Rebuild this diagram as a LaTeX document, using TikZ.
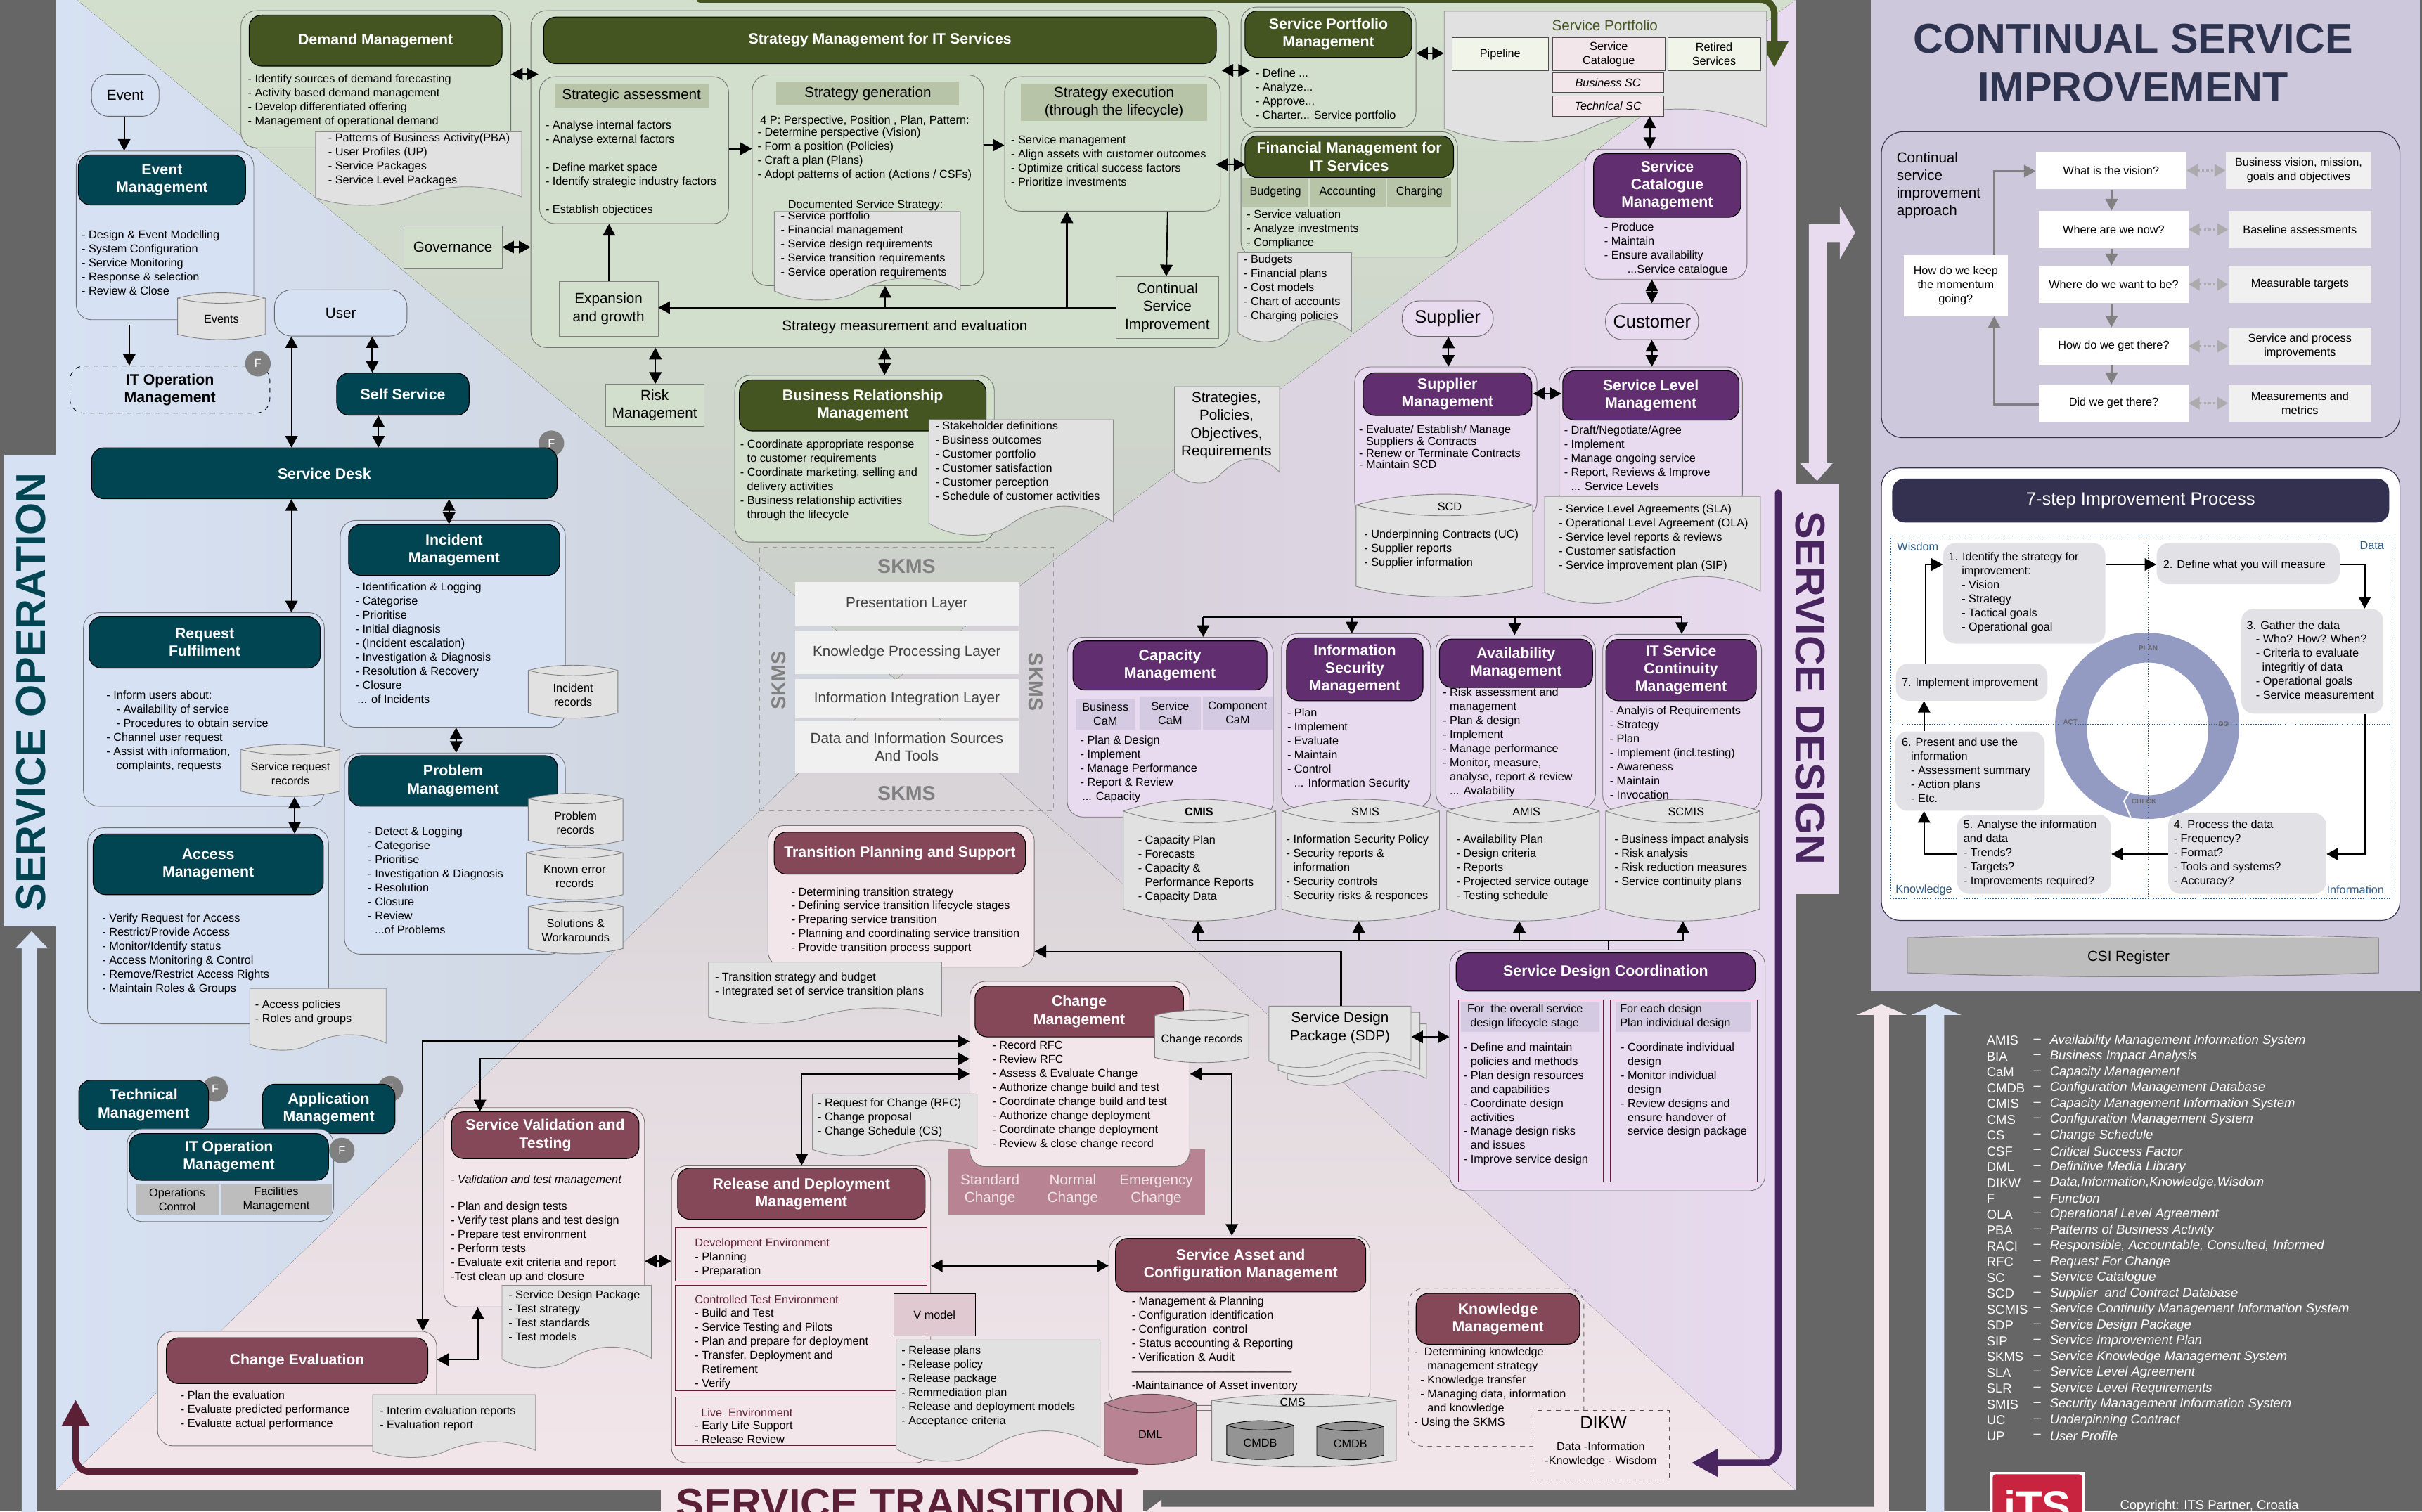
\documentclass[tikz,border=0pt]{standalone}
\usepackage{fontspec}
\setmainfont{Liberation Sans}
\usetikzlibrary{arrows.meta,fit,calc}

\definecolor{pagegrey}{HTML}{666666}
\definecolor{opblue}{HTML}{D6E1F3}
\definecolor{opfade}{HTML}{CFD3DA}
\definecolor{stgreen}{HTML}{D3DFCD}
\definecolor{stfade}{HTML}{CBCFCA}
\definecolor{sdpurple}{HTML}{E8DAEF}
\definecolor{sdfade}{HTML}{D2CFD5}
\definecolor{stpink}{HTML}{F3E6EB}
\definecolor{trfade}{HTML}{D4D1D4}
\definecolor{csililac}{HTML}{CEC8DC}
\definecolor{opteal}{HTML}{014553}
\definecolor{stolive}{HTML}{445522}
\definecolor{sdviolet}{HTML}{612E70}
\definecolor{stmaroon}{HTML}{854858}
\definecolor{csinavy}{HTML}{34304F}
\definecolor{csititle}{HTML}{2E3350}
\definecolor{docgrey}{HTML}{E1E1E1}
\definecolor{rosemid}{HTML}{B88494}
\definecolor{flowmaroon}{HTML}{5C2036}
\definecolor{flowviolet}{HTML}{4A2660}
\definecolor{stepgrey}{HTML}{E2E2E6}
\definecolor{ringblue}{HTML}{939BC3}
\definecolor{dotblue}{HTML}{2F5C85}
\definecolor{lblgreen}{HTML}{B7C4A8}
\definecolor{lblpurple}{HTML}{D4CAE2}
\definecolor{palegreen}{HTML}{F1F5E9}
\definecolor{itsred}{HTML}{C8233F}

\newcommand{\fs}{\fontsize{7.4}{9.1}\selectfont}
\newcommand{\fst}{\fontsize{7.4}{7.6}\selectfont}
\newcommand{\fm}{\fontsize{9.4}{11.5}\selectfont}
\newcommand{\fh}{\fontsize{9.7}{11.5}\selectfont\bfseries}
\newcommand{\fx}{\fontsize{11.6}{13.5}\selectfont}
\newcommand{\fbig}{\fontsize{27}{31.4}\selectfont\bfseries}
\newcommand{\fleg}{\fontsize{8.4}{10}\selectfont}
\newcommand{\ind}{\hspace*{4.5pt}}

\tikzset{
  hdr/.style={draw=black, line width=.5pt, rounded corners=8pt, inner sep=0pt, align=center, text=white, font=\fh},
  hdrop/.style={hdr, fill=opteal},
  hdrst/.style={hdr, fill=stolive},
  hdrsd/.style={hdr, fill=sdviolet},
  hdrtr/.style={hdr, fill=stmaroon},
  outer/.style={draw=black!55, line width=.4pt, rounded corners=10pt, inner sep=0pt},
  outerop/.style={outer, fill=opblue},
  outerst/.style={outer, fill=stgreen},
  outersd/.style={outer, fill=sdpurple},
  outertr/.style={outer, fill=stpink},
  flat/.style={draw=black!50, line width=.4pt, inner sep=0pt, align=center, font=\fm, fill=stgreen},
  lbl/.style={inner sep=0pt, align=center, font=\fm, fill=#1},
  sub/.style={inner sep=0pt, align=center, font=\fs, fill=#1},
  pill/.style={draw=black!60, line width=.4pt, rounded corners=11pt, inner sep=0pt, font=\fm, fill=#1},
  envbox/.style={draw=flowmaroon, line width=.4pt, inner sep=0pt},
  lst/.style={anchor=north west, inner sep=0pt, align=left, font=\fs, yshift=3.2pt, execute at begin node=\strut},
  txt/.style={inner sep=0pt, align=center, font=\fs},
  midtxt/.style={inner sep=0pt, align=center, font=\fm},
  envtxt/.style={anchor=west, inner sep=0pt, font=\fs, text=flowmaroon},
  fbadge/.style={circle, fill=black!50, text=white, inner sep=0pt, minimum size=16.5pt, font=\fs},
  docshape/.style={fill=docgrey, draw=black!45, line width=.4pt},
  cylshape/.style={fill=docgrey, draw=black!50, line width=.4pt},
  cylline/.style={draw=black!50, line width=.4pt},
  arr/.style={draw=black, line width=.95pt, -{Triangle[length=7.5pt,width=8pt]}},
  dbl/.style={draw=black, line width=.95pt, {Triangle[length=7.5pt,width=8pt]}-{Triangle[length=7.5pt,width=8pt]}},
  plainline/.style={draw=black, line width=.95pt},
  garr/.style={draw=black!50, line width=1pt, -{Triangle[length=7.5pt,width=8pt]}},
  gdbl/.style={draw=black!33, line width=1pt, dash pattern=on 1.5pt off 1.5pt, {Triangle[length=7pt,width=8pt]}-{Triangle[length=7pt,width=8pt]}},
  bigflow/.style={line width=4.2pt, rounded corners=9pt, line cap=round, -{Triangle[length=17pt,width=17pt]}},
  vision/.style={fill=white, inner sep=0pt, align=center, font=\fs},
  answer/.style={fill=black!6, inner sep=0pt, align=center, font=\fs},
  stepbox/.style={fill=stepgrey, rounded corners=8pt, inner sep=0pt},
  knotext/.style={inner sep=0pt, font=\fs, text=dotblue},
  skmsword/.style={inner sep=0pt, text=black!50, font=\fontsize{13}{15}\selectfont\bfseries},
  layer/.style={fill=black!6, inner sep=0pt, align=center, font=\fm, text=black!75},
  ringword/.style={inner sep=0pt, text=black!60, font=\fontsize{4.5}{5}\selectfont\bfseries},
}

% box between two corners
\newcommand{\bx}[7][]{\node[#1, anchor=center, minimum width={#5-#3}, minimum height={#6-#4}] (#2) at ({(#3+#5)/2},{(#4+#6)/2}) {#7};}

% sheet with a wavy lower edge
\newcommand{\docbox}[5]{%
  \node[inner sep=0pt, fit={(#2,#3) (#4,#5)}] (#1) {};
  \path[docshape] (#2,#3) -- (#4,#3) -- (#4,{#3+.87*(#5-#3)})
    .. controls ({#4-.2*(#4-#2)},{#3+.66*(#5-#3)}) and ({#2+.6*(#4-#2)},{#3+.72*(#5-#3)}) .. ({#2+.45*(#4-#2)},{#3+.88*(#5-#3)})
    .. controls ({#2+.33*(#4-#2)},{#3+1.03*(#5-#3)}) and ({#2+.12*(#4-#2)},{#3+1.0*(#5-#3)}) .. (#2,{#3+.88*(#5-#3)}) -- cycle;}

% data store, optional argument is the bulge
\newcommand{\cylbox}[7][3.4]{%
  \node[inner sep=0pt, fit={(#3,#4) (#5,#6)}] (#2) {};
  \path[cylshape] (#3,{#4+#1})
    .. controls ({#3+.3*(#5-#3)},{#4-.33*#1}) and ({#5-.3*(#5-#3)},{#4-.33*#1}) .. (#5,{#4+#1})
    -- (#5,{#6-#1})
    .. controls ({#5-.3*(#5-#3)},{#6+.33*#1}) and ({#3+.3*(#5-#3)},{#6+.33*#1}) .. (#3,{#6-#1}) -- cycle;
  \draw[cylline] (#3,{#4+#1}) .. controls ({#3+.3*(#5-#3)},{#4+2.33*#1}) and ({#5-.3*(#5-#3)},{#4+2.33*#1}) .. (#5,{#4+#1});
  \node[txt] (#2t) at ($(#2)+(0,#1*.6)$) {#7};}

\begin{document}
\begin{tikzpicture}[x=1pt, y=-1pt]
  \useasboundingbox (0,0) rectangle (1568,978.6);
  \clip (0,0) rectangle (1568,978.6);

  % 1. Page and lifecycle triangles
  \fill[pagegrey] (0,0) rectangle (1568,978.6);
  \fill[left color=opblue, right color=opfade] (36,0) -- (50,0) -- (580,440) -- (36,965) -- cycle;
  \fill[top color=stgreen, bottom color=stfade] (50,0) -- (1162.4,0) -- (580,440) -- cycle;
  \fill[right color=sdpurple, left color=sdfade] (1162.4,0) -- (1162.4,965) -- (580,440) -- cycle;
  \fill[bottom color=stpink, top color=trfade] (36,965) -- (1162.4,965) -- (580,440) -- cycle;

  % 2. Side labels and lifecycle arrows
  \fill[opblue] (2.7,294.7) rectangle (36,600);
  \fill[opblue] (14,979) -- (14,614) -- (10,614) -- (20.5,603) -- (31,614) -- (24,614) -- (24,979) -- cycle;
  \node[rotate=90, inner sep=0pt, text=opteal, font=\fbig] (soplabel) at (20,448) {SERVICE OPERATION};
  \fill[sdpurple] (1162,313) rectangle (1190.8,578.8);
  \node[rotate=-90, inner sep=0pt, text=flowviolet, font=\fbig] (sdlabel) at (1172,445.5) {SERVICE DESIGN};
  \fill[stpink] (428,965) rectangle (740,979);
  \node[anchor=north, inner sep=0pt, text=flowmaroon, font=\fbig] (stlabel) at (583,964) {SERVICE TRANSITION};
  \fill[sdpurple] (1171,145.3) -- (1191.1,145.3) -- (1191.1,133.8) -- (1201.1,150.5) -- (1191.1,167.8) -- (1191.1,156.8) -- (1182.4,156.8) -- (1182.4,300) -- (1186.4,300) -- (1176.4,311.4) -- (1165.4,300) -- (1171,300) -- cycle;
  \fill[stpink] (1222.9,657.2) -- (1234.4,657.2) -- (1218,650.3) -- (1201.8,657.2) -- (1213,657.2) -- (1213,975.7) -- (752,975.7) -- (752,971) -- (741.5,979) -- (1222.9,979) -- cycle;
  \fill[opblue] (1258.7,979) -- (1258.7,657.2) -- (1269.7,657.2) -- (1253,650.3) -- (1237.4,657.2) -- (1247.2,657.2) -- (1247.2,979) -- cycle;
  \coordinate (greenstart) at (453,-.3);
  \coordinate (greentip) at (1148.7,43.9);
  \draw[bigflow, stolive] (greenstart) -| (greentip);
  \coordinate (designstart) at (1151.2,319);
  \coordinate (designtip) at (1095,947.2);
  \draw[bigflow, flowviolet] (designstart) |- (designtip);
  \coordinate (transstart) at (735,952.9);
  \coordinate (transtip) at (49,906.3);
  \draw[bigflow, flowmaroon] (transstart) -| (transtip);

  % 3. Service operation
  \bx[pill=opblue]{eventpill}{59.3}{48}{103}{75.3}{Event}
  \bx[outerop]{eventbox}{49.3}{97.8}{164.3}{207}{}
  \bx[hdrop]{eventhdr}{50.7}{100.3}{159}{132.7}{Event\\Management}
  \node[lst] (eventlist) at (52.7,152) {- Design \& Event Modelling\\- System Configuration\\- Service Monitoring\\- Response \& selection\\- Review \& Close};
  \cylbox{eventstore}{115}{189.6}{171.7}{219.9}{Events}
  \bx[pill=opblue]{userpill}{177.7}{187.7}{263.5}{217.6}{User}
  \bx[draw=black, dashed, line width=.4pt, rounded corners=9pt, inner sep=0pt, align=center, font=\fh]{itdashed}{45.3}{237}{174.7}{267.5}{IT Operation\\Management}
  \node[fbadge] (fa) at (167,235.5) {F};
  \bx[hdrop]{selfhdr}{218}{241.6}{303.7}{268.8}{Self Service}
  \node[fbadge] (fb) at (357,287) {F};
  \bx[hdrop]{deskhdr}{59.3}{290}{360.7}{323}{Service Desk}

  \bx[outerop]{incidentbox}{220.3}{337}{366}{470.9}{}
  \bx[hdrop]{incidenthdr}{225.7}{339.6}{362.3}{372.6}{Incident\\Management}
  \node[lst] (incidentlist) at (230,380.4) {- Identification \& Logging\\- Categorise\\- Prioritise\\- Initial diagnosis\\- (Incident escalation)\\- Investigation \& Diagnosis\\- Resolution \& Recovery\\- Closure\\\,... of Incidents};
  \cylbox{incidentstore}{342}{430.7}{400}{465}{Incident\\records}
  \bx[outerop]{problembox}{223}{487.6}{366}{617.8}{}
  \bx[hdrop]{problemhdr}{225.7}{489.3}{361}{522}{Problem\\Management}
  \node[lst] (problemlist) at (238,538.8) {- Detect \& Logging\\- Categorise\\- Prioritise\\- Investigation \& Diagnosis\\- Resolution\\- Closure\\- Review\\\ind...of Problems};
  \cylbox{problemstore}{342}{513.7}{403.3}{547.6}{Problem\\records}
  \cylbox{knownstore}{340.7}{548.8}{403.3}{582.7}{Known error\\records}
  \cylbox{solutionstore}{342}{583.7}{403.3}{617.6}{Solutions \&\\Workarounds}

  \bx[outerop]{requestbox}{54}{396.7}{210}{522}{}
  \bx[hdrop]{requesthdr}{57.7}{399.4}{207.3}{432.6}{Request\\Fulfilment}
  \node[lst] (requestlist) at (68.7,450.4) {- Inform users about:\\\hspace*{6.5pt}- Availability of service\\\hspace*{6.5pt}- Procedures to obtain service\\- Channel user request\\- Assist with information,\\\hspace*{6.5pt}complaints, requests};
  \cylbox{requeststore}{156}{482}{220}{515.8}{Service request\\records}
  \bx[outerop]{accessbox}{56.7}{536}{212.7}{663}{}
  \bx[hdrop]{accesshdr}{60.3}{540}{209.3}{579.3}{Access\\Management}
  \node[lst] (accesslist) at (66,594.6) {- Verify Request for Access\\- Restrict/Provide Access\\- Monitor/Identify status\\- Access Monitoring \& Control\\- Remove/Restrict Access Rights\\- Maintain Roles \& Groups};
  \docbox{accessdoc}{161.7}{640}{250}{680.8}
  \node[lst] (accessdoclist) at (165,650.6) {- Access policies\\- Roles and groups};

  \node[fbadge] (fc) at (139.3,705.2) {F};
  \bx[hdrop]{techhdr}{51}{699.4}{135}{731.6}{Technical\\Management}
  \node[fbadge] (fd) at (252.7,705) {F};
  \bx[hdrop]{apphdr}{170}{702}{255.7}{734}{Application\\Management}
  \bx[outerop]{itopbox}{82.3}{731}{216}{791}{}
  \bx[hdrop]{itophdr}{83.7}{734}{212.7}{764.2}{IT Operation\\Management}
  \node[fbadge] (fe) at (221.3,745) {F};
  \bx[sub=black!26]{opcontrol}{87.7}{766.9}{141.7}{786.3}{Operations\\Control}
  \bx[sub=black!26]{facilities}{143}{766.9}{214.7}{786.3}{Facilities\\Management}

  % 4. Service strategy
  \bx[outerst]{demandbox}{156}{6.9}{330.7}{95.7}{}
  \bx[hdrst]{demandhdr}{161.3}{9.8}{325}{42.8}{Demand Management}
  \node[lst] (demandlist) at (160.3,51.2) {- Identify sources of demand forecasting\\- Activity based demand management\\- Develop differentiated offering\\- Management of operational demand};
  \docbox{demanddoc}{204.3}{85.3}{337.7}{133.8}
  \node[lst] (demanddoclist) at (212.3,89.5) {- Patterns of Business Activity(PBA)\\- User Profiles (UP)\\- Service Packages\\- Service Level Packages};
  \bx[flat]{govbox}{261.3}{146.3}{325}{173.7}{Governance}
  \bx[outerst]{strategybox}{343.7}{6.9}{795.7}{225}{}
  \bx[hdrst]{strategyhdr}{352}{11}{787.4}{41.2}{Strategy Management for IT Services}
  \bx[outerst]{assessbox}{349.3}{49.7}{471.7}{144.8}{}
  \bx[lbl=lblgreen]{assesslbl}{359}{54.3}{458.7}{69.6}{Strategic assessment}
  \node[lst] (assesslist) at (353,81.3) {- Analyse internal factors\\- Analyse external factors\\[9.1pt]- Define market space\\- Identify strategic industry factors\\[9.1pt]- Establish objectices};
  \bx[outerst]{genbox}{487}{48.5}{636.7}{185}{}
  \bx[lbl=lblgreen]{genlbl}{502.7}{52.9}{621}{68.3}{Strategy generation}
  \node[lst] (genlista) at (492,76.9) {4 P: Perspective, Position , Plan, Pattern:};
  \node[lst] (genlistb) at (490.3,85.9) {- Determine perspective (Vision)\\- Form a position (Policies)\\- Craft a plan (Plans)\\- Adopt patterns of action (Actions / CSFs)};
  \node[lst] (genlistc) at (510,131.5) {Documented Service Strategy:};
  \docbox{gendoc}{501.3}{136.9}{621.7}{195.4}
  \node[lst] (gendoclist) at (505.3,140) {- Service portfolio\\- Financial management\\- Service design requirements\\- Service transition requirements\\- Service operation requirements};
  \bx[outerst]{execbox}{650.4}{49.7}{790}{136.7}{}
  \bx[lbl=lblgreen]{execlbl}{661}{54.3}{781.4}{78.4}{Strategy execution\\(through the lifecycle)}
  \node[lst] (execlist) at (654.4,90.9) {- Service management\\- Align assets with customer outcomes\\- Optimize critical success factors\\- Prioritize investments};
  \bx[flat]{growthbox}{362}{182.2}{426}{217.6}{Expansion\\and growth}
  \bx[flat]{csibox}{722.4}{179.1}{789}{219.2}{Continual\\Service\\Improvement}
  \node[midtxt] (measure) at (585.7,211.5) {Strategy measurement and evaluation};
  \bx[flat]{riskbox}{392}{248.7}{455.7}{276}{Risk\\Management}
  \bx[outerst]{brmbox}{475.7}{243}{643.7}{351}{}
  \bx[hdrst]{brmhdr}{478.7}{246}{638.4}{279}{Business Relationship\\Management}
  \node[lst] (brmlist) at (479,288) {- Coordinate appropriate response\\\ind to customer requirements\\- Coordinate marketing, selling and\\\ind delivery activities\\- Business relationship activities\\\ind through the lifecycle};
  \docbox{brmdoc}{601.4}{271.7}{720.7}{348}
  \node[lst] (brmdoclist) at (605.4,276) {- Stakeholder definitions\\- Business outcomes\\- Customer portfolio\\- Customer satisfaction\\- Customer perception\\- Schedule of customer activities};
  \bx[outerst]{spmbox}{803.4}{4.6}{916.7}{82.6}{}
  \bx[hdrst]{spmhdr}{806}{7.1}{914}{37.2}{Service Portfolio\\Management}
  \node[lst] (spmlist) at (812.7,47.7) {- Define ...\\- Analyze...\\- Approve...\\- Charter... Service portfolio};
  \docbox{portfoliodoc}{935}{7.3}{1143.7}{93.4}
  \node[midtxt, text=stolive] (portfoliotitle) at (1039,16.3) {Service Portfolio};
  \bx[draw=black!70, line width=.4pt, inner sep=0pt, align=center, font=\fs, fill=palegreen]{pipelinebox}{940}{24.2}{1002.4}{45.8}{Pipeline}
  \bx[draw=black!70, line width=.4pt, inner sep=0pt, align=center, font=\fs, fill=stpink]{cataloguebox}{1005}{24.2}{1078}{45.8}{Service\\Catalogue}
  \bx[draw=black!70, line width=.4pt, inner sep=0pt, align=center, font=\fs, fill=palegreen]{retiredbox}{1079.6}{24.2}{1139.7}{45.8}{Retired\\Services}
  \bx[draw=black!70, line width=.4pt, inner sep=0pt, align=center, font=\fs\itshape, fill=stpink]{businesssc}{1005}{47}{1077}{59.8}{Business SC}
  \bx[draw=black!70, line width=.4pt, inner sep=0pt, align=center, font=\fs\itshape, fill=stpink]{technicalsc}{1005}{62.3}{1077}{75.2}{Technical SC}
  \bx[outerst]{finbox}{803.4}{85.3}{943.6}{166.4}{}
  \bx[hdrst]{finhdr}{806}{88}{941}{115}{Financial Management for\\IT Services}
  \bx[sub=lblgreen]{budgeting}{804.4}{115.3}{847}{133.8}{Budgeting}
  \bx[sub=lblgreen]{accounting}{848}{115.3}{897}{133.8}{Accounting}
  \bx[sub=lblgreen]{charging}{898.2}{115.3}{939.5}{133.8}{Charging}
  \node[lst] (finlist) at (807,139) {- Service valuation\\- Analyze investments\\- Compliance};
  \docbox{findoc}{801.4}{163.6}{875}{222.4}
  \node[lst] (findoclist) at (805,168.2) {- Budgets\\- Financial plans\\- Cost models\\- Chart of accounts\\- Charging policies};
  \docbox{strategiesdoc}{760.4}{250.4}{828.4}{313.9}
  \node[midtxt] (strategiestext) at (794,275.5) {Strategies,\\Policies,\\Objectives,\\Requirements};

  % 5. Service design
  \bx[outersd]{catalogbox}{1026}{96.6}{1131}{180.8}{}
  \bx[hdrsd]{cataloghdr}{1031.7}{99.5}{1127}{140.7}{Service\\Catalogue\\Management}
  \node[lst] (cataloglist) at (1038.4,147.3) {- Produce\\- Maintain\\- Ensure availability\\\hspace*{15pt}...Service catalogue};
  \bx[pill=sdpurple, font=\fx]{customerpill}{1039.4}{196.5}{1099.6}{219.9}{Customer}
  \bx[pill=sdpurple, font=\fx]{supplierpill}{907.7}{194.8}{966.7}{217.8}{Supplier}
  \bx[outersd]{supplierbox}{877}{237.6}{995}{335}{}
  \bx[hdrsd]{supplierhdr}{882.4}{241.4}{991.7}{269}{Supplier\\Management}
  \node[lst, font=\fst, yshift=-.3pt] (supplierlist) at (879.7,278) {- Evaluate/ Establish/ Manage\\\ind Suppliers \& Contracts\\- Renew or Terminate Contracts\\- Maintain SCD};
  \cylbox[7]{scdstore}{877.9}{320}{992.2}{386.6}{}
  \node[txt] (scdword) at (938.5,328) {SCD};
  \node[lst] (scdlist) at (883,345.9) {- Underpinning Contracts (UC)\\- Supplier reports\\- Supplier information};
  \bx[outersd]{slmbox}{1009.4}{237.6}{1128}{330}{}
  \bx[hdrsd]{slmhdr}{1011.7}{240}{1125.8}{272}{Service Level\\Management}
  \node[lst] (slmlist) at (1012.4,278.8) {- Draft/Negotiate/Agree\\- Implement\\- Manage ongoing service\\- Report, Reviews \& Improve\\\ind... Service Levels};
  \docbox{slmdoc}{1000}{321.4}{1139.7}{392}
  \node[lst] (slmdoclist) at (1009,329.5) {- Service Level Agreements (SLA)\\- Operational Level Agreement (OLA)\\- Service level reports \& reviews\\- Customer satisfaction\\- Service improvement plan (SIP)};

  \bx[outersd]{capbox}{690.9}{412.6}{824.2}{529}{}
  \bx[hdrsd]{caphdr}{694.6}{415}{820.2}{446.8}{Capacity\\Management}
  \bx[sub=lblpurple]{capbusiness}{696.6}{452.5}{734.6}{472.3}{Business\\CaM}
  \bx[sub=lblpurple]{capservice}{737.9}{451}{777.2}{472.3}{Service\\CaM}
  \bx[sub=lblpurple]{capcomponent}{778.9}{451}{823.6}{472.3}{Component\\CaM}
  \node[lst] (caplist) at (699.2,479.4) {- Plan \& Design\\- Implement\\- Manage Performance\\- Report \& Review\\\,... Capacity};
  \bx[outersd]{secbox}{829.6}{410.3}{926.2}{523}{}
  \bx[hdrsd]{sechdr}{832.9}{413}{921.2}{453.7}{Information\\Security\\Management}
  \node[lst] (seclist) at (833.2,461.7) {- Plan\\- Implement\\- Evaluate\\- Maintain\\- Control\\\ind... Information Security};
  \bx[outersd]{availbox}{929.6}{411.3}{1032.9}{523.6}{}
  \bx[hdrsd]{availhdr}{931.9}{413.8}{1031}{445.2}{Availability\\Management}
  \node[lst] (availlist) at (933.9,448.5) {- Risk assessment and\\\ind management\\- Plan \& design\\- Implement\\- Manage performance\\- Monitor, measure,\\\ind analyse, report \& review\\\ind... Avalability};
  \bx[outersd]{contbox}{1037.6}{410.7}{1140.4}{525}{}
  \bx[hdrsd]{conthdr}{1039.6}{414}{1137}{453.7}{IT Service\\Continuity\\Management}
  \node[lst] (contlist) at (1042,460.3) {- Analyis of Requirements\\- Strategy\\- Plan\\- Implement (incl.testing)\\- Awareness\\- Maintain\\- Invocation};

  \cylbox[7.7]{cmisstore}{727.2}{517.5}{825.9}{596.3}{}
  \node[txt, font=\fs\bfseries] (cmisword) at (776.2,525.8) {CMIS};
  \node[lst] (cmislist) at (736.6,544) {- Capacity Plan\\- Forecasts\\- Capacity \&\\\ind Performance Reports\\- Capacity Data};
  \cylbox[7.7]{smisstore}{829.9}{517.5}{931.9}{596.3}{}
  \node[txt] (smisword) at (883.9,525.8) {SMIS};
  \node[lst] (smislist) at (832.6,543.6) {- Information Security Policy\\- Security reports \&\\\ind information\\- Security controls\\- Security risks \& responces};
  \cylbox[7.7]{amisstore}{936.6}{517.5}{1035.4}{596.3}{}
  \node[txt] (amisword) at (988.2,525.8) {AMIS};
  \node[lst] (amislist) at (942.6,543.6) {- Availability Plan\\- Design criteria\\- Reports\\- Projected service outage\\- Testing schedule};
  \cylbox[7.7]{scmisstore}{1039.5}{517.5}{1139.1}{596.3}{}
  \node[txt] (scmisword) at (1091.6,525.8) {SCMIS};
  \node[lst] (scmislist) at (1045,543.4) {- Business impact analysis\\- Risk analysis\\- Risk reduction measures\\- Service continuity plans};

  \bx[outersd]{coordbox}{938.5}{615}{1142.7}{771}{}
  \bx[hdrsd]{coordhdr}{942.7}{617}{1136.3}{641.7}{Service Design Coordination}
  \bx[envbox]{overallbox}{944.2}{647.6}{1038}{765.2}{}
  \bx[sub=lblpurple]{overalllbl}{945.9}{649.1}{1035.4}{668.3}{}
  \node[lst] (overallhead) at (949.7,653.2) {For\ \ the overall service\\\hspace*{2pt}design lifecycle stage};
  \node[lst] (overalllist) at (947.4,678.1) {- Define and maintain\\\ind policies and methods\\- Plan design resources\\\ind and capabilities\\- Coordinate design\\\ind activities\\- Manage design risks\\\ind and issues\\- Improve service design};
  \bx[envbox]{eachbox}{1042.5}{647.6}{1137.6}{765.2}{}
  \bx[sub=lblpurple]{eachlbl}{1045.7}{649.1}{1133.5}{668.3}{}
  \node[lst] (eachhead) at (1048.6,653.4) {For each design\\Plan individual design};
  \node[lst] (eachlist) at (1049,678.1) {- Coordinate individual\\\ind design\\- Monitor individual\\\ind design\\- Review designs and\\\ind ensure handover of\\\ind service design package};

  % 6. SKMS
  \bx[draw=black!40, dashed, line width=.4pt, inner sep=0pt]{skmsbox}{491.9}{354.2}{682.2}{524.8}{}
  \bx[layer]{presentation}{514.6}{376.8}{659.6}{405.4}{Presentation Layer}
  \bx[layer]{processing}{514.6}{408.2}{659.6}{436.4}{Knowledge Processing Layer}
  \bx[layer]{integration}{514.6}{439.7}{659.6}{465.2}{Information Integration Layer}
  \bx[layer]{sources}{514.6}{466.7}{659.6}{500.8}{Data and Information Sources\\And Tools}
  \node[skmsword] (skmstop) at (586.9,366.8) {SKMS};
  \node[skmsword] (skmsbottom) at (586.9,513.7) {SKMS};
  \node[skmsword, rotate=90] (skmsleft) at (504.2,440.6) {SKMS};
  \node[skmsword, rotate=-90] (skmsright) at (670.6,441.6) {SKMS};

  % 7. Service transition
  \bx[outertr]{planbox}{497.2}{534.6}{669.6}{626.1}{}
  \bx[hdrtr]{planhdr}{501.2}{538.8}{663.9}{566}{Transition Planning and Support}
  \node[lst] (planlist) at (512.2,577.5) {- Determining transition strategy\\- Defining service transition lifecycle stages\\- Preparing service transition\\- Planning and coordinating service transition\\- Provide transition process support};
  \docbox{plandoc}{458.7}{623}{609.6}{663.4}
  \node[lst] (plandoclist) at (462.7,632.8) {- Transition strategy and budget\\- Integrated set of service transition plans};
  \bx[fill=rosemid, inner sep=0pt]{typesbox}{614.2}{744.3}{780.2}{786.5}{}
  \node[midtxt, text=stpink] (standardword) at (640.9,770.5) {Standard\\Change};
  \node[midtxt, text=stpink] (normalword) at (694.5,770.5) {Normal\\Change};
  \node[midtxt, text=stpink] (emergencyword) at (748.5,770.5) {Emergency\\Change};
  \bx[outertr]{changebox}{627.9}{635.4}{770.2}{755.4}{}
  \bx[hdrtr]{changehdr}{631.2}{638.5}{766.2}{671.4}{Change\\Management}
  \node[lst] (changelist) at (642.2,677) {- Record RFC\\- Review RFC\\- Assess \& Evaluate Change\\- Authorize change build and test\\- Coordinate change build and test\\- Authorize change deployment\\- Coordinate change deployment\\- Review \& close change record};
  \docbox{changedoc}{525.9}{708.4}{632.5}{749.1}
  \node[lst] (changedoclist) at (529.2,714.2) {- Request for Change (RFC)\\- Change proposal\\- Change Schedule (CS)};
  \cylbox{changestore}{747.5}{654}{808.5}{688.1}{Change records}

  \bx[outertr]{evalbox}{102}{862}{282.7}{936.2}{}
  \bx[hdrtr]{evalhdr}{107.7}{866.2}{277}{895.9}{Change Evaluation}
  \node[lst] (evallist) at (116.7,903.4) {- Plan the evaluation\\- Evaluate predicted performance\\- Evaluate actual performance};
  \docbox{evaldoc}{241.3}{903}{346.7}{944.5}
  \node[lst] (evaldoclist) at (245.7,913.8) {- Interim evaluation reports\\- Evaluation report};
  \bx[outertr]{testbox}{287.3}{717.2}{417.3}{846.3}{}
  \bx[hdrtr]{testhdr}{292.3}{719.9}{413.7}{750.2}{Service Validation and\\Testing}
  \node[lst, font=\fs\itshape] (testlista) at (291.7,763.1) {- Validation and test management};
  \node[lst] (testlistb) at (291.7,781.3) {- Plan and design tests\\- Verify test plans and test design\\- Prepare test environment\\- Perform tests\\- Evaluate exit criteria and report\\-Test clean up and closure};
  \docbox{testdoc}{325}{832.3}{421.7}{886.6}
  \node[lst] (testdoclist) at (329,838.4) {- Service Design Package\\- Test strategy\\- Test standards\\- Test models};

  \bx[outertr]{releasebox}{434.7}{754.8}{602.5}{947.3}{}
  \bx[hdrtr]{releasehdr}{438.7}{756.4}{598.9}{789.5}{Release and Deployment\\Management}
  \bx[envbox]{devbox}{437.3}{795}{600.2}{829.6}{}
  \node[envtxt] (devword) at (449.7,805.1) {Development Environment};
  \node[lst] (devlist) at (449.7,814.1) {- Planning\\- Preparation};
  \bx[envbox]{ctrlbox}{437.3}{832.3}{600.2}{900.7}{}
  \node[envtxt] (ctrlword) at (449.7,841.5) {Controlled Test Environment};
  \node[lst] (ctrllist) at (449.7,850.5) {- Build and Test\\- Service Testing and Pilots\\- Plan and prepare for deployment\\- Transfer, Deployment and\\\ind Retirement\\- Verify};
  \bx[envbox]{livebox}{437.3}{904.8}{600.2}{935.8}{}
  \node[envtxt] (liveword) at (453.7,914.5) {Live\ \ Environment};
  \node[lst] (livelist) at (449.7,923.4) {- Early Life Support\\- Release Review};
  \bx[draw=black, line width=.4pt, inner sep=0pt, fill=stpink!70!rosemid, align=center, font=\fs]{vmodel}{578.5}{837.5}{631.5}{865.1}{V model}
  \docbox{releasedoc}{580.2}{867.6}{712.2}{947.7}
  \node[lst] (releasedoclist) at (583.5,874.5) {- Release plans\\- Release policy\\- Release package\\- Remmediation plan\\- Release and deployment models\\- Acceptance criteria};

  \bx[outertr]{assetbox}{717.9}{800.3}{886.9}{910}{}
  \bx[hdrtr]{assethdr}{722.2}{801.8}{884.2}{836.5}{Service Asset and\\Configuration Management}
  \node[lst] (assetlist) at (732.5,842.8) {- Management \& Planning\\- Configuration identification\\- Configuration\ \ control\\- Status accounting \& Reporting\\- Verification \& Audit\\------------------------------------------\\-Maintainance of Asset inventory};
  \begin{scope}[cylshape/.append style={fill=rosemid, draw=black!70}, cylline/.append style={draw=black!70}]
    \cylbox[6]{dmlstore}{714.9}{902.7}{774.5}{948.3}{DML}
  \end{scope}
  \cylbox[4]{cmsstore}{784.5}{902.7}{903.9}{949.8}{}
  \node[txt] (cmsword) at (836.9,908) {CMS};
  \begin{scope}[cylshape/.append style={fill=black!42, draw=black}, cylline/.append style={draw=black}]
    \cylbox[3]{cmdbone}{794.2}{919.9}{837.6}{945}{CMDB}
    \cylbox[3]{cmdbtwo}{852.5}{920.5}{895.9}{945.2}{CMDB}
  \end{scope}
  \docbox{sdpthree}{833.5}{663}{923.5}{703.6}
  \docbox{sdptwo}{827.5}{655.5}{919.2}{697.9}
  \docbox{sdpdoc}{821.5}{651.5}{913.5}{692}
  \node[midtxt] (sdptext) at (867.5,665.5) {Service Design\\Package (SDP)};

  \bx[draw=black!60, dashed, line width=.4pt, rounded corners=10pt, inner sep=0pt]{knowbox}{911.6}{834.2}{1025.4}{936.5}{}
  \bx[hdrtr]{knowhdr}{916.8}{837.5}{1022.7}{870.4}{Knowledge\\Management}
  \node[lst] (knowlist) at (915.3,875.6) {-\ \ Determining knowledge\\\ind\ \ management strategy\\\ \ - Knowledge transfer\\\ \ - Managing data, information\\\ind\ \ and knowledge\\- Using the SKMS};
  \bx[draw=black!70, dashed, line width=.4pt, inner sep=0pt, fill=stpink]{dikwbox}{992.5}{913.4}{1080.8}{958.5}{}
  \node[txt, font=\fx] (dikwword) at (1038,921.3) {DIKW};
  \node[txt] (dikwtext) at (1036.3,941.7) {Data -Information\\-Knowledge - Wisdom};

  % 8. Continual service improvement panel
  \fill[csililac] (1211,0) rectangle (1566.6,641.9);
  \node[inner sep=0pt, align=center, text=csititle, font=\fbig] (csiheading) at (1381,40.7) {CONTINUAL SERVICE\\IMPROVEMENT};
  \bx[draw=csinavy, line width=.5pt, rounded corners=14pt, inner sep=0pt]{approachbox}{1218}{85.3}{1553.7}{283.4}{}
  \node[lst, font=\fm, yshift=1pt] (approachword) at (1227.7,102.4) {Continual\\service\\improvement\\approach};
  \bx[vision]{qvision}{1318}{98.2}{1415.5}{122.5}{What is the vision?}
  \bx[vision]{qnow}{1320}{136.5}{1416.8}{160.7}{Where are we now?}
  \bx[vision]{qwant}{1320}{172}{1416.8}{196.3}{Where do we want to be?}
  \bx[vision]{qhow}{1320}{212.1}{1416.8}{236.2}{How do we get there?}
  \bx[vision]{qdid}{1320}{248.9}{1416.8}{273.2}{Did we get there?}
  \bx[vision]{qkeep}{1232.6}{165.3}{1299.7}{204.6}{How do we keep\\the momentum\\going?}
  \bx[answer]{avision}{1440.9}{98.2}{1535.3}{122.5}{Business vision, mission,\\goals and objectives}
  \bx[answer]{anow}{1442.6}{136.5}{1535.3}{160.7}{Baseline assessments}
  \bx[answer]{awant}{1442.6}{172}{1535.3}{196.3}{Measurable targets}
  \bx[answer]{ahow}{1442.6}{212.1}{1535.3}{236.2}{Service and process\\improvements}
  \bx[answer]{adid}{1442.6}{248.9}{1535.3}{273.2}{Measurements and\\metrics}
  \foreach \a/\b in {qvision/qnow, qnow/qwant, qwant/qhow, qhow/qdid}
    \draw[garr] (\a.south -| 1367,0) -- (\b.north -| 1367,0);
  \foreach \a/\b in {qvision/avision, qnow/anow, qwant/awant, qhow/ahow, qdid/adid}
    \draw[gdbl] (\a.east) -- (\a.east -| \b.west);
  \draw[garr] (qdid.west |- 0,261.9) -| (qkeep.south -| 1291,0);
  \draw[garr] (qkeep.north -| 1291,0) |- (qvision.west |- 0,110.8);

  \bx[fill=white, draw=csinavy, line width=.5pt, rounded corners=12pt, inner sep=0pt]{stepsbox}{1218}{303}{1553.7}{596}{}
  \bx[fill=csinavy, rounded corners=8pt, inner sep=0pt, text=white, font=\fx]{stepshdr}{1225}{309.9}{1546.7}{338.3}{7-step Improvement Process}
  \bx[draw=dotblue, densely dotted, line width=.7pt, inner sep=0pt]{dikwgrid}{1223.8}{347}{1548.6}{581.7}{}
  \fill[ringblue, even odd rule] (1390,470) ellipse [x radius=59.6, y radius=60.3] (1390.4,472) ellipse [x radius=39.3, y radius=43];
  \draw[white, line width=.9pt] (1385.2,502.2) -- (1375,518.8) -- (1379.6,529.8);
  \draw[dotblue, densely dotted, line width=.6pt] (dikwgrid.north -| 1390.7,0) -- (dikwgrid.south -| 1390.7,0);
  \draw[dotblue, densely dotted, line width=.6pt] (dikwgrid.west |- 0,469.2) -- (dikwgrid.east |- 0,469.2);
  \node[ringword] (planword) at (1390.7,419.5) {PLAN};
  \node[ringword] (doword) at (1439.6,469) {DO};
  \node[ringword] (actword) at (1340.3,467.4) {ACT};
  \node[ringword] (checkword) at (1388,518.8) {CHECK};
  \node[knotext, anchor=west] (wisdomword) at (1228,354) {Wisdom};
  \node[knotext, anchor=east] (dataword) at (1543.6,353) {Data};
  \node[knotext, anchor=west] (knowledgeword) at (1227,576.2) {Knowledge};
  \node[knotext, anchor=east] (informationword) at (1543.6,576.2) {Information};

  \bx[stepbox]{stepa}{1258}{351.6}{1363}{416.7}{}
  \node[lst] (stepatext) at (1261.3,360.8) {1. Identify the strategy for\\\hspace*{8.5pt}improvement:\\\hspace*{8.5pt}- Vision\\\hspace*{8.5pt}- Strategy\\\hspace*{8.5pt}- Tactical goals\\\hspace*{8.5pt}- Operational goal};
  \bx[stepbox]{stepb}{1396.2}{351.6}{1514.7}{378.3}{}
  \node[lst] (stepbtext) at (1400.2,364.6) {2. Define what you will measure};
  \bx[stepbox]{stepc}{1451}{394.2}{1543}{462.1}{}
  \node[lst] (stepctext) at (1454.3,405) {3. Gather the data\\\hspace*{6pt}- Who? How? When?\\\hspace*{6pt}- Criteria to evaluate\\\hspace*{10pt}integritiy of data\\\hspace*{6pt}- Operational goals\\\hspace*{6pt}- Service measurement};
  \bx[stepbox]{stepd}{1403.7}{526.5}{1506}{578.8}{}
  \node[lst] (stepdtext) at (1407,534.2) {4. Process the data\\- Frequency?\\- Format?\\- Tools and systems?\\- Accuracy?};
  \bx[stepbox]{stepe}{1267}{527.6}{1366.7}{578.8}{}
  \node[lst] (stepetext) at (1271,534.2) {5. Analyse the information\\and data\\- Trends?\\- Targets?\\- Improvements required?};
  \bx[stepbox]{stepf}{1227}{473.6}{1323.7}{525}{}
  \node[lst] (stepftext) at (1231,480.9) {6. Present and use the\\\hspace*{6pt}information\\\hspace*{6pt}- Assessment summary\\\hspace*{6pt}- Action plans\\\hspace*{6pt}- Etc.};
  \bx[stepbox]{stepg}{1227.4}{429.7}{1325.6}{453.7}{}
  \node[lst] (stepgtext) at (1231,441.1) {7. Implement improvement};
  \draw[arr] (stepa.east |- 0,365.5) -- (stepb.west |- 0,365.5);
  \draw[arr] (stepb.east |- 0,365.5) -| (stepc.north -| 1530.9,0);
  \draw[arr] (stepc.south -| 1531,0) |- (stepd.east |- 0,553);
  \draw[arr] (stepd.west |- 0,553) -- (stepe.east |- 0,553);
  \draw[arr] (stepe.west |- 0,553) -| (stepf.south -| 1245.6,0);
  \draw[arr] (stepf.north -| 1245.6,0) -- (stepg.south -| 1245.6,0);
  \draw[arr] (stepg.north -| 1246.5,0) |- (stepa.west |- 0,365.5);

  \cylbox[2.5]{csiregister}{1234.8}{604.8}{1539.9}{632.4}{}
  \path[cylshape, fill=black!26] (1234.8,607.3) -- (1539.9,607.3) -- (1539.9,629.9) .. controls (1440,633.2) and (1335,633.2) .. (1234.8,629.9) -- cycle;
  \node[midtxt] (csiregtext) at (1378,619.8) {CSI Register};

  % 9. Legend
  \foreach \ab/\mean [count=\i from 0] in {AMIS/Availability Management Information System, BIA/Business Impact Analysis, CaM/Capacity Management, CMDB/Configuration Management Database, CMIS/Capacity Management Information System, CMS/Configuration Management System, CS/Change Schedule, CSF/Critical Success Factor, DML/Definitive Media Library, DIKW/Data{,}Information{,}Knowledge{,}Wisdom, F/Function, OLA/Operational Level Agreement, PBA/Patterns of Business Activity, RACI/Responsible{,} Accountable{,} Consulted{,} Informed, RFC/Request For Change, SC/Service Catalogue, SCD/Supplier\ \ and Contract Database, SCMIS/Service Continuity Management Information System, SDP/Service Design Package, SIP/Service Improvement Plan, SKMS/Service Knowledge Management System, SLA/Service Level Agreement, SLR/Service Level Requirements, SMIS/Security Management Information System, UC/Underpinning Contract, UP/User Profile}{
    \pgfmathsetmacro{\yy}{673.8+10.24*\i}
    \node[anchor=west, inner sep=0pt, text=white, font=\fleg] (legab\i) at (1286,\yy) {\ab};
    \node[anchor=west, inner sep=0pt, text=white, font=\fleg] (legdash\i) at (1316.4,\yy) {--};
    \node[anchor=west, inner sep=0pt, text=white, font=\fleg\itshape] (legmean\i) at (1326.9,\yy) {\mean};
  }
  \fill[white] (1288.6,953.3) rectangle (1350,979);
  \fill[itsred, rounded corners=2pt] (1290,954.6) rectangle (1348,990);
  \node[anchor=base, inner sep=0pt, text=white, font=\fontsize{28}{30}\selectfont\bfseries] (itslogo) at (1319,985) {iTS};
  \node[anchor=west, inner sep=0pt, text=white, font=\fleg] (copyright) at (1372.3,975.3) {Copyright: ITS Partner, Croatia};

  % 10. Connectors
  \draw[arr] (eventpill.south -| 80.4,0) -- (eventbox.north -| 80.4,0);
  \draw[arr, shorten <=3pt] (eventbox.south -| 83.7,0) -- (itdashed.north -| 83.7,0);
  \draw[dbl] (userpill.south -| 188.7,0) -- (deskhdr.north -| 188.7,0);
  \draw[dbl] (userpill.south -| 241,0) -- (selfhdr.north -| 241,0);
  \draw[dbl] (selfhdr.south -| 245,0) -- (deskhdr.north -| 245,0);
  \draw[dbl] (deskhdr.south -| 188.7,0) -- (requestbox.north -| 188.7,0);
  \draw[dbl] (deskhdr.south -| 290.7,0) -- (incidenthdr.north -| 290.7,0);
  \draw[dbl] (incidentbox.south -| 295.3,0) -- (problembox.north -| 295.3,0);
  \draw[dbl] (requeststore.south -| 190.7,0) -- (accesshdr.north -| 190.7,0);

  \draw[dbl, shorten >=-5pt] (demandbox.east |- 0,48) -- (strategybox.west |- 0,48);
  \draw[dbl] (govbox.east) -- (strategybox.west |- govbox.east);
  \draw[arr] (assessbox.east |- 0,96.3) -- (genbox.west |- 0,96.3);
  \draw[arr] (genbox.east |- 0,94) -- (execbox.west |- 0,94);
  \draw[arr] (growthbox.north -| 394.3,0) -- (assessbox.south -| 394.3,0);
  \draw[arr] (csibox.west |- 0,199.2) -- (growthbox.east |- 0,199.2);
  \draw[arr] (573,199.2) -- (genbox.south -| 573,0);
  \draw[arr] (690.7,199.2) -- (execbox.south -| 690.7,0);
  \draw[arr] (execbox.south -| 756,0) -- (csibox.north -| 755,0);
  \draw[dbl] (strategybox.south -| 424.3,0) -- (riskbox.north -| 424.3,0);
  \draw[dbl] (strategybox.south -| 572.7,0) -- (brmbox.north -| 572.7,0);
  \draw[dbl, shorten <=-5pt, shorten >=-6pt] (strategybox.east |- 0,45.6) -- (spmbox.west |- 0,45.6);
  \draw[dbl] (spmbox.east |- 0,34.5) -- (portfoliodoc.west |- 0,34.5);
  \draw[dbl, shorten <=-3pt, shorten >=-3pt] (execbox.east |- 0,106.6) -- (finbox.west |- 0,106.6);

  \draw[dbl] (technicalsc.south -| 1068,0) -- (catalogbox.north -| 1068,0);
  \draw[dbl] (catalogbox.south -| 1069.4,0) -- (customerpill.north -| 1069.4,0);
  \draw[dbl] (customerpill.south -| 1069.4,0) -- (slmbox.north -| 1069.4,0);
  \draw[dbl] (supplierpill.south -| 937.7,0) -- (supplierbox.north -| 937.7,0);
  \draw[dbl, shorten <=-2.6pt, shorten >=-1.6pt] (supplierbox.east |- 0,254.8) -- (slmbox.west |- 0,254.8);
  \draw[plainline] (778.9,399.8) -- (1088.7,399.8);
  \foreach \n/\xx in {capbox/778.9, secbox/875.2, availbox/980.6, contbox/1088.7}
    \draw[arr] (\xx,399.8) -- (\n.north -| \xx,0);
  \draw[plainline] (775.6,608.8) -- (1089.5,608.8);
  \draw[plainline] (coordbox.north -| 1041.4,0) -- (1041.4,608.8);
  \foreach \n/\xx in {cmisstore/775.6, smisstore/879.6, amisstore/983.6, scmisstore/1089.5}
    \draw[arr] (\xx,608.8) -- (\n.south -| \xx,0);
  \draw[dbl] (sdpdoc.east |- 0,671.4) -- (coordbox.west |- 0,671.4);

  \draw[arr] (sdpdoc.north -| 868.2,0) |- (planbox.east |- 0,616.1);
  \draw[dbl] (changebox.west |- 0,674.3) -| (evalbox.north -| 273.7,0);
  \draw[dbl] (changebox.west |- 0,685.6) -| (testhdr.north -| 310.7,0);
  \draw[dbl] (changebox.west |- 0,695.4) -| (releasebox.north -| 519,0);
  \draw[dbl] (changebox.east |- 0,695.4) -| (assetbox.north -| 797.5,0);
  \draw[dbl] (testbox.south -| 309.3,0) |- (evalbox.east |- 0,880.4);
  \draw[dbl] (testbox.east |- 0,816.6) -- (releasebox.west |- 0,816.6);
  \draw[dbl] (releasebox.east |- 0,819.6) -- (assetbox.west |- 0,819.6);
  \draw[draw=black!55, line width=.4pt] (dmlstore.east |- 0,913) -- (cmsstore.west |- 0,913);
\end{tikzpicture}
\end{document}
